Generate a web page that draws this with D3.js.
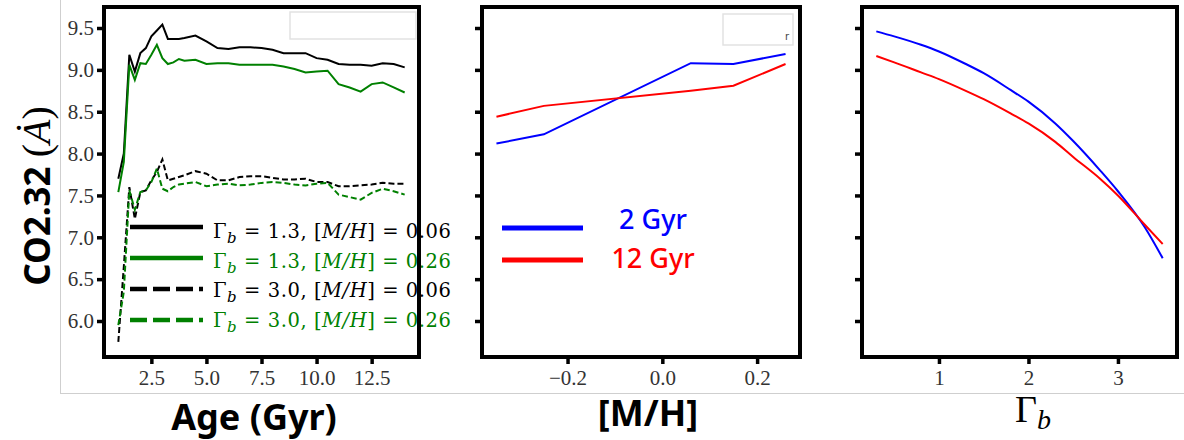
<!DOCTYPE html>
<html>
<head>
<meta charset="utf-8">
<script src="https://cdn.jsdelivr.net/npm/d3@7"></script>
<style>
    body { margin: 0; background: #fff; }
    .tick text { font-family: "Liberation Serif", serif; font-size: 21px; fill: #333; }
    .label { font-family: "Comic Sans MS", "Noto Sans", sans-serif; font-weight: bold; fill: #000; }
    .math { font-family: "Liberation Serif", serif; }
    .legmath { font-family: "DejaVu Serif", serif; }
</style>
</head>
<body>
<div id="chart"></div>
<script>

// left panel: index vs age
var ages = [1.0, 1.25, 1.5, 1.75, 2.0, 2.25, 2.5, 2.75, 3.0, 3.25, 3.5, 3.75, 4.0,
    4.5, 5.0, 5.5, 6.0, 6.5, 7.0, 7.5, 8.0, 8.5, 9.0, 9.5, 10.0,
    10.5, 11.0, 11.5, 12.0, 12.5, 13.0, 13.5, 14.0];

var g13_m006 = [7.70, 8.00, 9.18, 8.98, 9.20, 9.26, 9.40, 9.47, 9.54, 9.37, 9.37, 9.37, 9.38,
    9.41, 9.34, 9.26, 9.25, 9.27, 9.27, 9.26, 9.24, 9.20, 9.20, 9.20, 9.14,
    9.12, 9.07, 9.06, 9.06, 9.05, 9.08, 9.07, 9.03];

var g13_m026 = [7.54, 7.90, 9.06, 8.88, 9.08, 9.07, 9.18, 9.30, 9.14, 9.07, 9.09, 9.13, 9.11,
    9.12, 9.07, 9.08, 9.08, 9.06, 9.06, 9.06, 9.06, 9.04, 9.01, 8.97, 8.98,
    8.99, 8.83, 8.79, 8.74, 8.83, 8.85, 8.79, 8.73];

var g30_m006 = [5.75, 6.65, 7.60, 7.22, 7.54, 7.56, 7.68, 7.78, 7.93, 7.68, 7.70, 7.72, 7.74,
    7.79, 7.76, 7.68, 7.68, 7.72, 7.73, 7.73, 7.71, 7.69, 7.69, 7.70, 7.66,
    7.66, 7.61, 7.61, 7.62, 7.63, 7.65, 7.64, 7.64];

var g30_m026 = [5.95, 6.35, 7.56, 7.33, 7.54, 7.56, 7.66, 7.82, 7.58, 7.55, 7.60, 7.63, 7.64,
    7.66, 7.61, 7.63, 7.64, 7.62, 7.63, 7.65, 7.66, 7.65, 7.63, 7.62, 7.64,
    7.65, 7.51, 7.48, 7.45, 7.53, 7.58, 7.55, 7.51];

var ageSeries = [g13_m006, g13_m026, g30_m006, g30_m026];
var ageColours = ['#000000', '#008000', '#000000', '#008000'];
var ageDashed = [false, false, true, true];
var legendGamma = ['1.3', '1.3', '3.0', '3.0'];
var legendMH = ['0.06', '0.26', '0.06', '0.26'];

// middle panel: index vs metallicity
var metals = [-0.35, -0.25, 0.06, 0.15, 0.26];
var metal2Gyr = [8.12, 8.23, 9.08, 9.07, 9.19];
var metal12Gyr = [8.44, 8.57, 8.75, 8.81, 9.07];

// right panel: index vs IMF slope
var gammas = [0.3, 0.5, 0.8, 1.0, 1.3, 1.5, 1.8, 2.0, 2.3, 2.5, 2.8, 3.0, 3.3, 3.5];
var gamma2Gyr = [9.46, 9.40, 9.30, 9.22, 9.07, 8.96, 8.76, 8.62, 8.36, 8.15, 7.80, 7.55, 7.12, 6.75];
var gamma12Gyr = [9.165, 9.09, 8.97, 8.89, 8.75, 8.65, 8.48, 8.36, 8.14, 7.96, 7.70, 7.50, 7.15, 6.92];

var ageLabels = ['2 Gyr', '12 Gyr'];
var ageLabelColours = ['#0000ff', '#ff0000'];

// ticks
var yTicks = [6.0, 6.5, 7.0, 7.5, 8.0, 8.5, 9.0, 9.5];
var ageTicks = [2.5, 5.0, 7.5, 10.0, 12.5];
var metalTicks = [-0.2, 0.0, 0.2];
var gammaTicks = [1, 2, 3];


(function () {

    var width = 1184, height = 440;
    var top = 7, bottom = 357;

    var svg = d3.select('#chart')
        .append('svg')
        .attr('width', width)
        .attr('height', height);

    svg.append('rect')
        .attr('width', width)
        .attr('height', height)
        .attr('fill', '#fff');

    // faint page edges from the pasted figure
    svg.append('line')
        .attr('x1', 60.5).attr('x2', 60.5)
        .attr('y1', 0).attr('y2', 394)
        .attr('stroke', '#cfcfcf');

    svg.append('line')
        .attr('x1', 60).attr('x2', width)
        .attr('y1', 393.5).attr('y2', 393.5)
        .attr('stroke', '#cfcfcf');

    // shared y scale
    var yScale = d3.scaleLinear()
        .domain([5.570, 9.751])
        .range([bottom, top]);

    var panels = [
        { x0: 104, x1: 419, domain: [0.35, 14.65], ticks: ageTicks, yLabels: true },
        { x0: 482, x1: 800, domain: [-0.3805, 0.2905], ticks: metalTicks, yLabels: false },
        { x0: 862, x1: 1177, domain: [0.14, 3.66], ticks: gammaTicks, yLabels: false }
    ];

    panels.forEach(function (p) {
        p.x = d3.scaleLinear().domain(p.domain).range([p.x0, p.x1]);
        p.g = svg.append('g');
    });

    var fmt1 = d3.format('.1f');

    // ---- axes
    panels.forEach(function (p, i) {
        var ya = svg.append('g')
            .attr('transform', 'translate(' + p.x0 + ',0)')
            .call(d3.axisLeft(yScale)
                .tickValues(yTicks)
                .tickSize(7)
                .tickPadding(3)
                .tickFormat(p.yLabels ? fmt1 : ''));

        var xa = svg.append('g')
            .attr('transform', 'translate(0,' + bottom + ')')
            .call(d3.axisBottom(p.x)
                .tickValues(p.ticks)
                .tickSize(7)
                .tickPadding(6)
                .tickFormat(i == 2 ? d3.format('d') : fmt1));

        [ya, xa].forEach(function (a) {
            a.select('.domain').remove();
            a.selectAll('.tick line')
                .attr('stroke', '#000')
                .attr('stroke-width', 3.5);
            a.selectAll('.tick text').attr('font-size', null).attr('font-family', null);
        });
    });

    // ---- left panel
    var pl = panels[0];

    var ageLine = d3.line()
        .x(function (d, i) { return pl.x(ages[i]); })
        .y(function (d) { return yScale(d); });

    ageSeries.forEach(function (s, i) {
        pl.g.append('path')
            .datum(s)
            .attr('d', ageLine)
            .attr('fill', 'none')
            .attr('stroke', ageColours[i])
            .attr('stroke-width', 2)
            .attr('stroke-dasharray', ageDashed[i] ? '6,3' : null);
    });

    // legend box ghost
    pl.g.append('rect')
        .attr('x', 290).attr('y', 12)
        .attr('width', 126).attr('height', 27)
        .attr('fill', '#fff')
        .attr('stroke', '#e2e2e2')
        .attr('stroke-width', 1.5);

    var legend = pl.g.append('g');

    ageSeries.forEach(function (s, i) {
        var ly = 227 + i * 31;
        var ty = 238 + i * 29.7;

        legend.append('line')
            .attr('x1', 130).attr('x2', 203)
            .attr('y1', ly).attr('y2', ly)
            .attr('stroke', ageColours[i])
            .attr('stroke-width', 4.5)
            .attr('stroke-dasharray', ageDashed[i] ? '17,6' : null);

        var t = legend.append('text')
            .attr('class', 'legmath')
            .attr('x', 213)
            .attr('y', ty)
            .attr('font-size', 19.5)
            .attr('textLength', 238)
            .attr('lengthAdjust', 'spacing')
            .attr('fill', ageColours[i]);

        t.append('tspan').text('Γ');
        t.append('tspan').attr('font-style', 'italic').attr('font-size', 15).attr('dy', 5).text('b');
        t.append('tspan').attr('dy', -5).text(' = ' + legendGamma[i] + ', [');
        t.append('tspan').attr('font-style', 'italic').text('M/H');
        t.append('tspan').text('] = ' + legendMH[i]);
    });

    // ---- middle panel
    var pm = panels[1];

    var metalLine = d3.line()
        .x(function (d, i) { return pm.x(metals[i]); })
        .y(function (d) { return yScale(d); });

    [metal2Gyr, metal12Gyr].forEach(function (s, i) {
        pm.g.append('path')
            .datum(s)
            .attr('d', metalLine)
            .attr('fill', 'none')
            .attr('stroke', ageLabelColours[i])
            .attr('stroke-width', 2);
    });

    pm.g.append('rect')
        .attr('x', 723).attr('y', 14)
        .attr('width', 70).attr('height', 31)
        .attr('fill', 'none')
        .attr('stroke', '#e2e2e2')
        .attr('stroke-width', 1.5);

    pm.g.append('text')
        .attr('x', 785).attr('y', 40)
        .attr('font-size', 10)
        .attr('font-family', 'DejaVu Sans, sans-serif')
        .attr('fill', '#444')
        .text('r');

    ageLabels.forEach(function (lab, i) {
        pm.g.append('line')
            .attr('x1', 502).attr('x2', 583)
            .attr('y1', 228 + i * 32).attr('y2', 228 + i * 32)
            .attr('stroke', ageLabelColours[i])
            .attr('stroke-width', 5);

        pm.g.append('text')
            .attr('class', 'label')
            .attr('x', 653)
            .attr('y', 229 + i * 39)
            .attr('text-anchor', 'middle')
            .attr('font-size', 27)
            .style('font-weight', 500)
            .style('fill', ageLabelColours[i])
            .text(lab);
    });

    // ---- right panel
    var pr = panels[2];

    var gammaLine = d3.line()
        .x(function (d, i) { return pr.x(gammas[i]); })
        .y(function (d) { return yScale(d); })
        .curve(d3.curveMonotoneX);

    [gamma2Gyr, gamma12Gyr].forEach(function (s, i) {
        pr.g.append('path')
            .datum(s)
            .attr('d', gammaLine)
            .attr('fill', 'none')
            .attr('stroke', ageLabelColours[i])
            .attr('stroke-width', 2);
    });

    // frames on top
    panels.forEach(function (p) {
        svg.append('rect')
            .attr('x', p.x0).attr('y', top)
            .attr('width', p.x1 - p.x0)
            .attr('height', bottom - top)
            .attr('fill', 'none')
            .attr('stroke', '#000')
            .attr('stroke-width', 4);
    });

    // ---- axis titles
    var yl = svg.append('text')
        .attr('class', 'label')
        .attr('transform', 'translate(50,196) rotate(-90)')
        .attr('text-anchor', 'middle')
        .attr('font-size', 35);

    yl.append('tspan').text('CO2.32 ');
    yl.append('tspan').attr('class', 'math').style('font-weight', 'normal').attr('font-size', 40).text('(');
    yl.append('tspan').attr('class', 'math').style('font-weight', 'normal').attr('font-style', 'italic').attr('font-size', 40).text('Ȧ');
    yl.append('tspan').attr('class', 'math').style('font-weight', 'normal').attr('font-size', 40).text(')');

    svg.append('text')
        .attr('class', 'label')
        .attr('x', 254).attr('y', 430)
        .attr('text-anchor', 'middle')
        .attr('font-size', 36)
        .text('Age (Gyr)');

    svg.append('text')
        .attr('class', 'label')
        .attr('x', 648).attr('y', 426)
        .attr('text-anchor', 'middle')
        .attr('font-size', 36)
        .text('[M/H]');

    var gt = svg.append('text')
        .attr('class', 'math')
        .attr('x', 1015).attr('y', 422)
        .attr('font-size', 38);

    gt.append('tspan').text('Γ');
    gt.append('tspan').attr('font-style', 'italic').attr('font-size', 28).attr('dy', 7).text('b');

})();

</script>
</body>
</html>
